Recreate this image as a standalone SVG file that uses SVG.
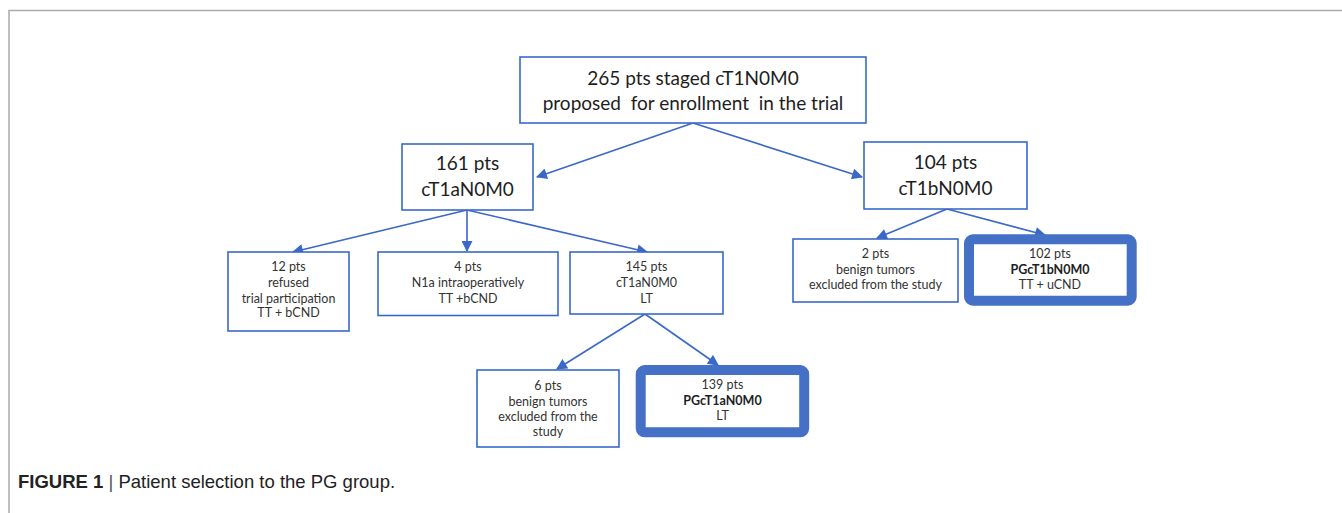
<svg xmlns="http://www.w3.org/2000/svg" width="1342" height="513" viewBox="0 0 1342 513">
<defs>
<marker id="ah" viewBox="0 0 10 10" refX="9" refY="5" markerWidth="12" markerHeight="11" markerUnits="userSpaceOnUse" orient="auto">
<path d="M0,0 L10,5 L0,10 z" fill="#3a68c8"/>
</marker>
<style>
.box{fill:#fff;stroke:#3a68c8;stroke-width:1.6}
.thick{fill:#fff;stroke:#4470c6;stroke-width:10}
.big{font-family:Lato,"Liberation Sans",sans-serif;font-size:19px;fill:#1e1e1e;text-anchor:middle}
.sm{font-family:Lato,"Liberation Sans",sans-serif;font-size:12.5px;fill:#333;text-anchor:middle}
.b{font-weight:bold;fill:#1e1e1e}
.conn line{stroke:#3a68c8;stroke-width:1.6;marker-end:url(#ah)}
</style>
</defs>
<rect width="1342" height="513" fill="#fff"/>
<polyline points="9,513 9,10.5 1342,10.5" fill="none" stroke="#aaa" stroke-width="1.5"/>

<g id="connectors" class="conn">
<line x1="693" y1="123" x2="537" y2="177"/>
<line x1="693" y1="123" x2="862" y2="177"/>
<line x1="467" y1="210" x2="293" y2="252"/>
<line x1="467" y1="210" x2="467" y2="251"/>
<line x1="467" y1="210" x2="647" y2="252"/>
<line x1="645" y1="314" x2="557" y2="369"/>
<line x1="645" y1="314" x2="718" y2="365"/>
<line x1="947" y1="209" x2="877" y2="238"/>
<line x1="947" y1="209" x2="1045" y2="235"/>
</g>

<g id="n265">
<rect class="box" x="520" y="57" width="346" height="66"/>
<text class="big" x="693" y="85">265 pts staged cT1N0M0</text>
<text class="big" x="693" y="110" xml:space="preserve">proposed  for enrollment  in the trial</text>
</g>

<g id="n161">
<rect class="box" x="402" y="144" width="131" height="66"/>
<text class="big" x="467.5" y="170">161 pts</text>
<text class="big" x="467.5" y="196">cT1aN0M0</text>
</g>

<g id="n104">
<rect class="box" x="864" y="142" width="163" height="67"/>
<text class="big" x="945.5" y="169">104 pts</text>
<text class="big" x="945.5" y="195">cT1bN0M0</text>
</g>

<g id="n12">
<rect class="box" x="228" y="252" width="121" height="79"/>
<text class="sm" x="288.5" y="271">12 pts</text>
<text class="sm" x="288.5" y="287">refused</text>
<text class="sm" x="288.5" y="302.5">trial participation</text>
<text class="sm" x="288.5" y="317">TT + bCND</text>
</g>

<g id="n4">
<rect class="box" x="378" y="252" width="180" height="63.5"/>
<text class="sm" x="468" y="271">4 pts</text>
<text class="sm" x="468" y="287">N1a intraoperatively</text>
<text class="sm" x="468" y="302.5">TT +bCND</text>
</g>

<g id="n145">
<rect class="box" x="570" y="252" width="153" height="62"/>
<text class="sm" x="646.5" y="271">145 pts</text>
<text class="sm" x="646.5" y="287">cT1aN0M0</text>
<text class="sm" x="646.5" y="302.5">LT</text>
</g>

<g id="n6">
<rect class="box" x="477" y="370" width="142" height="77"/>
<text class="sm" x="548" y="390">6 pts</text>
<text class="sm" x="548" y="406">benign tumors</text>
<text class="sm" x="548" y="421">excluded from the</text>
<text class="sm" x="548" y="436">study</text>
</g>

<g id="n139">
<rect class="thick" x="640.7" y="370" width="163.5" height="62.3" rx="4"/>
<text class="sm" x="722.5" y="389">139 pts</text>
<text class="sm b" x="722.5" y="405">PGcT1aN0M0</text>
<text class="sm" x="722.5" y="420">LT</text>
</g>

<g id="n2">
<rect class="box" x="793" y="239" width="165" height="63"/>
<text class="sm" x="875.5" y="258">2 pts</text>
<text class="sm" x="875.5" y="274">benign tumors</text>
<text class="sm" x="875.5" y="289">excluded from the study</text>
</g>

<g id="n102">
<rect class="thick" x="969" y="239.3" width="162.7" height="61.4" rx="4"/>
<text class="sm" x="1050" y="258">102 pts</text>
<text class="sm b" x="1050" y="273.5">PGcT1bN0M0</text>
<text class="sm" x="1050" y="288.5">TT + uCND</text>
</g>

<g id="caption">
<text x="18" y="488" font-family="'Liberation Sans',Arial,sans-serif" font-size="18.5" fill="#222"><tspan font-weight="bold">FIGURE 1</tspan><tspan fill="#555"> | </tspan>Patient selection to the PG group.</text>
</g>
</svg>
